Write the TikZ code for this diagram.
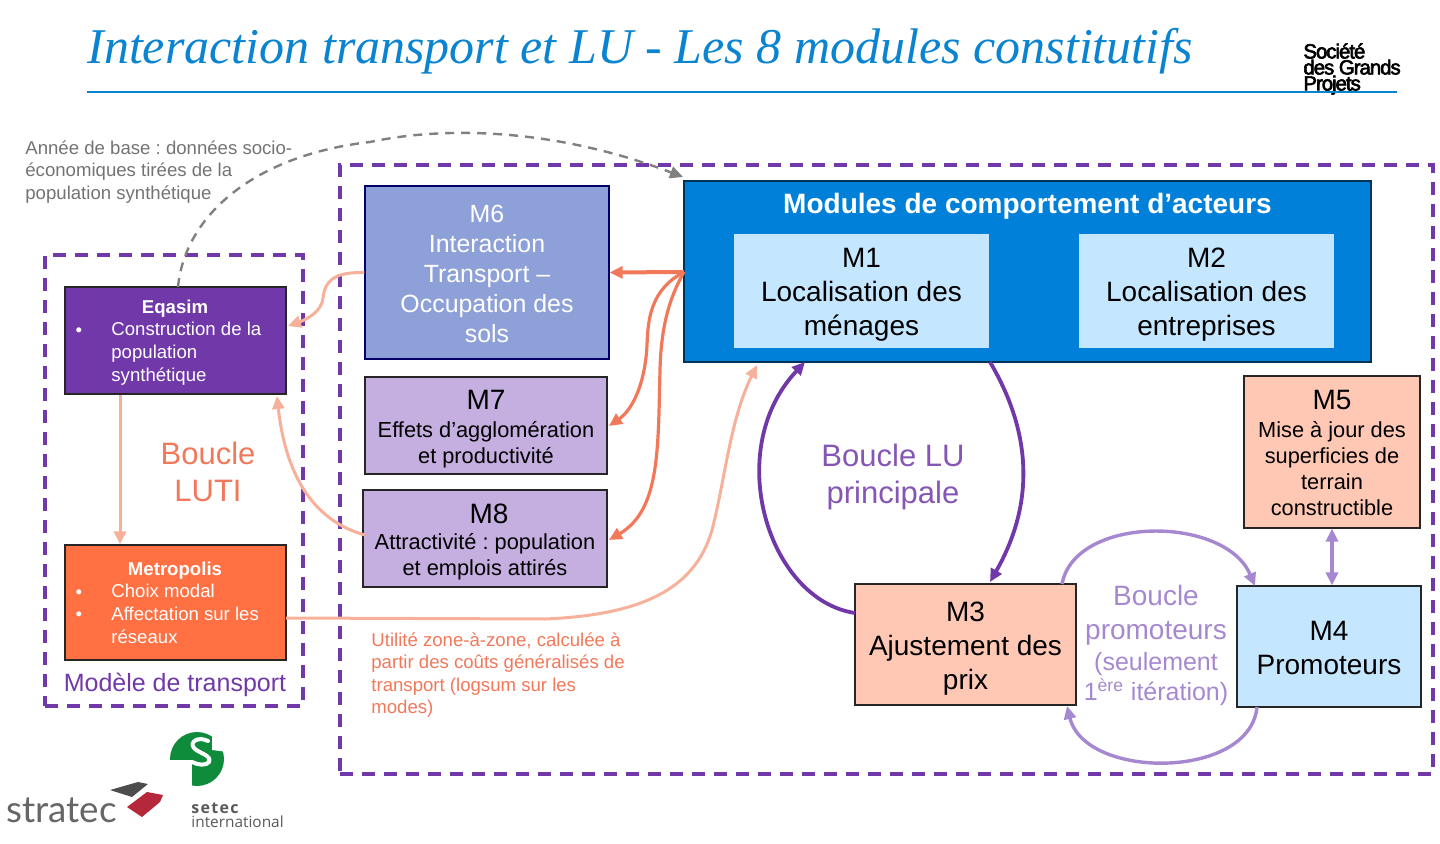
\documentclass[tikz,border=0pt]{standalone}
\usepackage{fontspec}
\usetikzlibrary{arrows.meta}
\setmainfont{Liberation Sans}
\newfontfamily\titlefont{Liberation Serif}
\newfontfamily\logofont[LetterSpace=-5,FakeBold=3]{Liberation Sans}
\newfontfamily\setecfont{Open Sans}
\newfontfamily\stratecfont{Lato}
\definecolor{titleblue}{HTML}{0A84D0}
\definecolor{modblue}{HTML}{0080D8}
\definecolor{paleblue}{HTML}{C4E6FF}
\definecolor{slateblue}{HTML}{8EA0D8}
\definecolor{lilac}{HTML}{C5AEE0}
\definecolor{deeppurple}{HTML}{7038A8}
\definecolor{softpurple}{HTML}{A688D0}
\definecolor{metroorange}{HTML}{FF7043}
\definecolor{peach}{HTML}{FFC8B4}
\definecolor{salmon}{HTML}{F7B09A}
\definecolor{coral}{HTML}{F2785A}
\definecolor{setecgreen}{HTML}{0F8B3C}
\definecolor{stratecred}{HTML}{B5283A}
\newcommand{\fsz}[2]{\fontsize{#1}{#2}\selectfont}
\newcommand{\tp}[1]{\rule{0pt}{#1pt}}
\begin{document}
\frenchspacing
\begin{tikzpicture}[
    x=0.5pt, y=-0.5pt,
    box/.style={draw=black!85, line width=0.6pt, inner sep=0pt, align=center},
    frame/.style={draw=deeppurple, line width=1.7pt, dash pattern=on 6.5pt off 4.5pt},
    listtext/.style={anchor=north west, align=left, inner sep=0pt, font=\fsz{9.3}{11.3}},
    loopname/.style={align=center, font=\fsz{15.5}{18.7}},
    tip/.style={>={Triangle[length=6.5pt,width=6pt]}},
    lu/.style={->, tip, line width=1.9pt, deeppurple},
    promo/.style={->, tip, line width=1.7pt, softpurple},
    feed/.style={->, tip, line width=1.5pt, salmon},
    modlink/.style={->, tip, line width=1.6pt, coral}
]
\useasboundingbox (0,0) rectangle (1440,844);

% Title
\node[anchor=west, inner sep=0pt, text=titleblue, font=\fsz{25}{30}\titlefont\itshape] (title) at (87,51) {Interaction transport et LU - Les 8 modules constitutifs};
\coordinate (ruleL) at (87,92);
\coordinate (ruleR) at (1397,92);
\node[anchor=north west, inner sep=0pt, align=left, font=\fsz{10.2}{8}\logofont] (sgp) at (1303,43) {Société\\des Grands\\Projets};
\draw[titleblue, line width=1.3pt] (ruleL) -- (ruleR);

% Frames
\node[frame, minimum width=546.5pt, minimum height=304.5pt] (outer) at (886.5,469.5) {};
\node[frame, minimum width=129pt, minimum height=225.5pt] (transport) at (174,480.5) {};

% Actor modules
\node[box, draw=black!60!modblue, fill=modblue, minimum width=343.5pt, minimum height=90.5pt] (modules) at (1027.5,271.5) {};
\node[text=white, font=\fsz{14}{17}\bfseries] (modtitle) at (1027.5,206.5) {Modules de comportement d’acteurs};
\node[box, draw=paleblue, fill=paleblue, minimum width=126.5pt, minimum height=56pt, font=\fsz{14}{17}] (m1) at (861.5,291) {\tp{13}M1\\Localisation des\\ménages};
\node[box, draw=paleblue, fill=paleblue, minimum width=126.5pt, minimum height=56pt, font=\fsz{14}{17}] (m2) at (1206.5,291) {\tp{13}M2\\Localisation des\\entreprises};

% M6 to M8
\node[box, draw=blue!40!black, fill=slateblue, text=white, minimum width=122pt, minimum height=86.5pt, font=\fsz{12.45}{15.05}] (m6) at (487,272.5) {\tp{10}M6\\Interaction\\Transport --\\Occupation des\\sols};
\node[box, fill=lilac, minimum width=121pt, minimum height=48.5pt, font=\fsz{10.9}{13}] (m7) at (486,425.5) {\tp{13}{\fsz{14}{16}M7}\\[1pt]Effets d’agglomération\\et productivité};
\node[box, fill=lilac, minimum width=122pt, minimum height=48.5pt, font=\fsz{10.9}{13}] (m8) at (485,538.5) {\tp{13}\hspace{4pt}{\fsz{14}{16}M8}\\Attractivité : population\\et emplois attirés};

% Transport model
\node[box, fill=deeppurple, minimum width=110.5pt, minimum height=53.5pt] (eqasim) at (175.5,340.5) {};
\node[text=white, font=\fsz{9.3}{11}\bfseries] (eqtitle) at (175,309) {Eqasim};
\node[text=white, font=\fsz{9.3}{11}] (eqdot) at (79,332) {•};
\node[listtext, text=white] (eqlist) at (111,322) {Construction de la\\population\\synthétique};
\node[box, fill=metroorange, minimum width=110.5pt, minimum height=57.5pt] (metro) at (175.5,602.5) {};
\node[text=white, font=\fsz{9.3}{11}\bfseries] (metrotitle) at (175,571) {Metropolis};
\node[text=white, font=\fsz{9.3}{11}] (metrodotA) at (79,594) {•};
\node[text=white, font=\fsz{9.3}{11}] (metrodotB) at (79,616) {•};
\node[listtext, text=white] (metrolist) at (111,584) {Choix modal\\Affectation sur les\\réseaux};
\node[text=deeppurple, font=\fsz{12.5}{15}] (transportname) at (175,685) {Modèle de transport};

% M3 to M5
\node[box, fill=peach, minimum width=110.5pt, minimum height=60.5pt, font=\fsz{14}{17}] (m3) at (965.5,644.5) {\tp{14}M3\\Ajustement des\\prix};
\node[box, fill=paleblue, minimum width=92pt, minimum height=60.5pt, font=\fsz{14}{17}] (m4) at (1329,646.5) {\tp{11}M4\\Promoteurs};
\node[box, fill=peach, minimum width=88pt, minimum height=76pt, font=\fsz{10.9}{13}] (m5) at (1332,452) {\tp{10.5}{\fsz{14}{16}M5}\\[1.2pt]Mise à jour des\\superficies de\\terrain\\constructible};

% Loop names and notes
\node[loopname, text=coral] (luti) at (208,472) {Boucle\\LUTI};
\node[loopname, text=deeppurple!85] (luloop) at (893,477) {Boucle LU\\principale};
\node[text=softpurple, align=center, font=\fsz{14}{17}] (promoloop) at (1156,645) {Boucle\\promoteurs\\[-1.5pt]{\fsz{12.5}{15}(seulement}\\[-2pt]{\fsz{12.5}{15}1\textsuperscript{ère} itération)}};
\node[listtext, text=black!55] (basenote) at (25,140) {Année de base : données socio-\\économiques tirées de la\\population synthétique};
\node[listtext, text=coral] (costnote) at (371,632) {Utilité zone-à-zone, calculée à\\partir des coûts généralisés de\\transport (logsum sur les\\modes)};

% Free ends of the connectors
\coordinate (modL) at (684,272);
\coordinate (modTL) at (683,177);
\coordinate (modB) at (757,365);
\coordinate (modLU) at (805,362);
\coordinate (modRU) at (990,362);
\coordinate (eqR) at (288,326);
\coordinate (eqB) at (277,396);
\coordinate (eqT) at (178,287);
\coordinate (m7R) at (609,426);
\coordinate (m8R) at (609,540);
\coordinate (m8L) at (365,535);
\coordinate (m3T) at (990,582);
\coordinate (m3L) at (855,613);
\coordinate (m3TR) at (1062,584);
\coordinate (m3BR) at (1067,706);
\coordinate (m4TL) at (1255,586);
\coordinate (m4BL) at (1257,707);
\coordinate (metroR) at (286,618);

% Connectors
\draw[feed] (m6.west) .. controls (335,272) and (325,280) .. (323,298) .. controls (322,312) and (305,320) .. (eqR);
\draw[feed] (m8L) .. controls (310,520) and (285,470) .. (eqB);
\draw[feed] (eqasim.south -| 120,0) -- (metro.north -| 120,0);
\draw[feed] (metroR) -- (545,619) .. controls (640,615) and (695,590) .. (712,530) .. controls (725,480) and (730,420) .. (modB);
\draw[modlink, line width=2pt] (modL) -- (m6.east);
\draw[modlink] (modL) .. controls (650,290) and (648,320) .. (647,345) .. controls (645,385) and (632,410) .. (m7R);
\draw[modlink] (modL) .. controls (668,300) and (661,330) .. (660,370) .. controls (658,450) and (660,510) .. (m8R);
\draw[->, tip, black!50, line width=1.2pt, dash pattern=on 4.5pt off 3.5pt] (eqT) .. controls (185,215) and (255,155) .. (370,142) .. controls (450,125) and (560,130) .. (modTL);
\draw[lu] (modRU) .. controls (1036,440) and (1031,510) .. (m3T);
\draw[lu] (m3L) .. controls (768,600) and (722,450) .. (modLU);
\draw[promo] (m3TR) .. controls (1075,515) and (1225,515) .. (m4TL);
\draw[promo] (m4BL) .. controls (1250,780) and (1085,780) .. (m3BR);
\draw[promo, <->] (m5.south -| 1332,0) -- (m4.north -| 1332,0);

% Logos
\node[anchor=west, inner sep=0pt, text=black!60, font=\fsz{18.4}{20}\stratecfont] (stratec) at (6,810) {stratec};
\fill[black!70] (110,790) -- (138,782) -- (148,784) -- (132,797) -- cycle;
\fill[stratecred] (127,807) -- (147,792) -- (163,795) -- (160,802) -- (142,817) -- cycle;
\fill[setecgreen] (197,759) circle[radius=13.5pt];
\fill[white] (165,760) rectangle (192,790);
\fill[white] (212,728) -- (228,728) -- (228,752) -- (212,750) -- cycle;
\draw[white, line width=2pt, line cap=round] (208,741) .. controls (198,736) and (189,742) .. (194,748) .. controls (198,753) and (212,755) .. (209,762) .. controls (206,766) and (198,765) .. (192,762);
\node[anchor=west, inner sep=0pt, text=black!65, font=\fsz{8}{9}\setecfont\bfseries\addfontfeatures{LetterSpace=8}] (setec) at (191,808) {setec};
\node[anchor=west, inner sep=0pt, text=black!65, font=\fsz{7.7}{9}\setecfont] (setecint) at (191,822) {international};
\end{tikzpicture}
\end{document}
